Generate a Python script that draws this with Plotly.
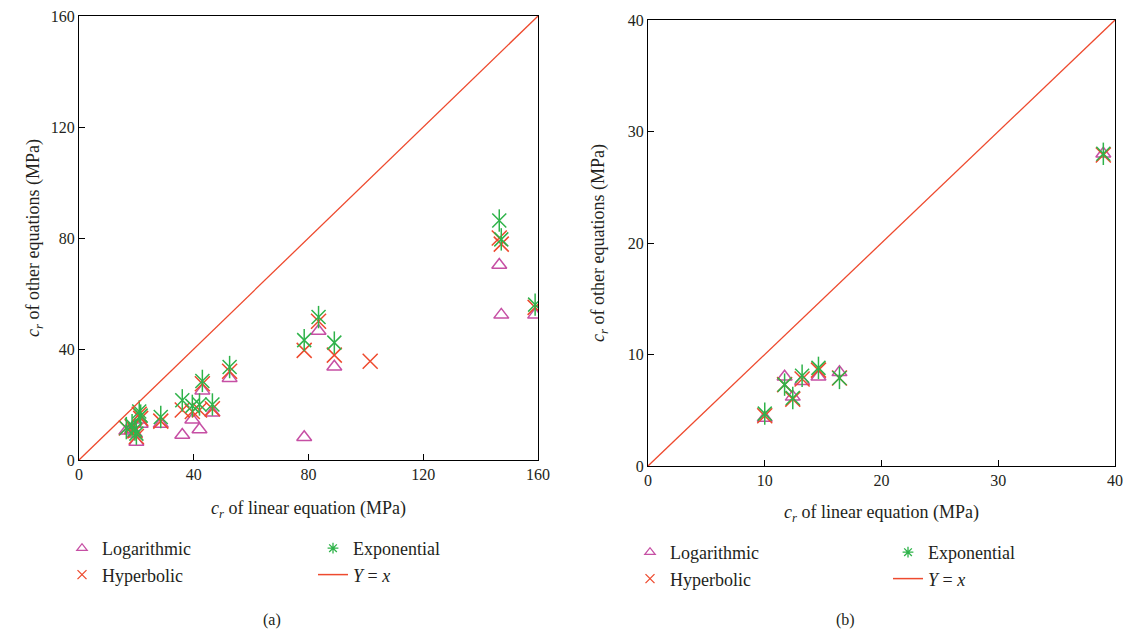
import plotly.graph_objects as go

# ---------------- Panel (a) data ----------------
a_linear = [16.5, 18.5, 19.5, 20.0, 21.0, 21.5, 28.5, 36.0, 39.5, 42.0, 43.0, 46.5, 52.5,
            78.5, 83.5, 89.0, 101.5, 146.5, 147.2, 159.0]
a_log = [10.5, 11.0, 9.5, 6.5, 14.5, 13.0, 13.0, 9.0, 14.5, 11.0, 25.0, 17.0, 29.5,
         8.2, 46.5, 33.6, None, 70.3, 52.3, 52.3]
a_hyp = [11.5, 12.0, 10.5, 8.5, 16.5, 15.0, 14.0, 18.0, 17.5, 18.0, 27.5, 18.5, 32.0,
         39.5, 50.0, 37.8, 35.6, 80.0, 77.8, 55.0]
a_exp = [11.5, 12.5, 11.0, 9.5, 17.5, 16.0, 15.5, 21.5, 19.5, 20.0, 28.5, 20.0, 33.5,
         43.2, 51.5, 42.3, None, 86.3, 79.5, 56.0]
a_range = [0, 160]
a_ticks = [0, 40, 80, 120, 160]

# ---------------- Panel (b) data ----------------
b_linear = [10.0, 11.7, 12.4, 13.2, 14.6, 16.4, 39.0]
b_log = [4.3, 8.0, 6.2, 7.6, 8.0, 8.4, 28.0]
b_hyp = [4.5, 7.3, 6.0, 7.8, 8.6, 7.9, 27.9]
b_exp = [4.7, 7.3, 6.1, 8.1, 8.8, 7.9, 28.0]
b_range = [0, 40]
b_ticks = [0, 10, 20, 30, 40]

series_names = ["Logarithmic", "Hyperbolic", "Exponential", "<i>Y</i> = <i>x</i>"]

FONT = "Liberation Serif"
TXT = "#231f20"
C_LOG = "#c64fa4"
C_HYP = "#ee4a2e"
C_EXP = "#2fb34a"

# page body has an 8px margin, so the figure is drawn 8px in from the top-left
OFF = 8
W, H = 1133 - 2 * OFF, 637 - 2 * OFF
ML, MR, MT, MB = 79 - OFF, 1133 - OFF - 1115, 16 - OFF, 637 - OFF - 466 - OFF
PW, PH = W - ML - MR, H - MT - MB


def px_x(px):
    return (px - OFF - ML) / PW


def px_y(py):
    return (H - MB - (py - OFF)) / PH


fig = go.Figure()

# (symbol list per series: the exponential star = x plus a vertical bar)
styles = [
    dict(symbols=[("triangle-up-open", 13)], color=C_LOG, leg="triangle-up-open"),
    dict(symbols=[("x-thin-open", 15)], color=C_HYP, leg="x-thin-open"),
    dict(symbols=[("x-thin-open", 14), ("line-ns-open", 16)], color=C_EXP, leg="asterisk-open"),
]


def add_panel(xs, series, rng, xa, ya, leg_left, leg_right):
    for vals, st in zip(series, styles):
        for sym, sz in st["symbols"]:
            fig.add_trace(go.Scatter(
                x=xs, y=vals, mode="markers", xaxis=xa, yaxis=ya, showlegend=False,
                marker=dict(symbol=sym, size=sz, color=st["color"],
                            line=dict(width=1.5, color=st["color"]))))
    fig.add_trace(go.Scatter(
        x=rng, y=rng, mode="lines", xaxis=xa, yaxis=ya, showlegend=False,
        line=dict(color=C_HYP, width=1.3)))
    legs = [leg_left, leg_left, leg_right]
    for name, st, lg in zip(series_names[:3], styles, legs):
        fig.add_trace(go.Scatter(
            x=[None], y=[None], mode="markers", name=name, xaxis=xa, yaxis=ya,
            legend=lg,
            marker=dict(symbol=st["leg"], size=9, color=st["color"],
                        line=dict(width=1.3, color=st["color"]))))
    fig.add_trace(go.Scatter(
        x=[None], y=[None], mode="lines", name=series_names[3], xaxis=xa, yaxis=ya,
        legend=leg_right, line=dict(color=C_HYP, width=1.5)))


add_panel(a_linear, [a_log, a_hyp, a_exp], a_range, "x", "y", "legend", "legend2")
add_panel(b_linear, [b_log, b_hyp, b_exp], b_range, "x2", "y2", "legend3", "legend4")

axis_common = dict(
    showgrid=False, zeroline=False, showline=True, linecolor="black", linewidth=1.2,
    mirror=True, ticks="inside", ticklen=6, tickcolor="black", tickwidth=1.2,
    automargin=False, ticklabeloverflow="allow",
    tickfont=dict(family=FONT, size=16, color=TXT),
)
xtitle = "<i>c<sub>r</sub></i> of linear equation (MPa)"
ytitle = "<i>c<sub>r</sub></i> of other equations (MPa)"

leg_common = dict(orientation="v", xanchor="left", yanchor="top", traceorder="normal",
                  font=dict(family=FONT, size=18, color=TXT), bgcolor="rgba(0,0,0,0)",
                  tracegroupgap=0)

fig.update_layout(
    width=W, height=H, margin=dict(l=ML, r=MR, t=MT, b=MB, autoexpand=False),
    paper_bgcolor="white", plot_bgcolor="white",
    font=dict(family=FONT, size=17, color=TXT),
    xaxis=dict(axis_common, domain=[0, px_x(538)], range=a_range, tickvals=a_ticks,
               anchor="y", title=dict(text=xtitle, font=dict(size=18), standoff=19)),
    yaxis=dict(axis_common, domain=[px_y(460), px_y(16)], range=a_range, tickvals=a_ticks,
               anchor="x", title=dict(text=ytitle, font=dict(size=18), standoff=6)),
    xaxis2=dict(axis_common, domain=[px_x(648), px_x(1115)], range=b_range, tickvals=b_ticks,
                anchor="y2", title=dict(text=xtitle, font=dict(size=18), standoff=17)),
    yaxis2=dict(axis_common, domain=[px_y(466), px_y(20)], range=b_range, tickvals=b_ticks,
                anchor="x2", title=dict(text=ytitle, font=dict(size=18), standoff=18)),
    legend=dict(leg_common, x=px_x(62), y=px_y(530)),
    legend2=dict(leg_common, x=px_x(313), y=px_y(530)),
    legend3=dict(leg_common, x=px_x(630), y=px_y(534)),
    legend4=dict(leg_common, x=px_x(888), y=px_y(534)),
    annotations=[
        dict(text="(a)", x=px_x(272), y=px_y(620), xref="paper", yref="paper",
             xanchor="center", yanchor="middle",
             showarrow=False, font=dict(family=FONT, size=16, color=TXT)),
        dict(text="(b)", x=px_x(845), y=px_y(620), xref="paper", yref="paper",
             xanchor="center", yanchor="middle",
             showarrow=False, font=dict(family=FONT, size=16, color=TXT)),
    ],
)

fig.write_html("out.html")
